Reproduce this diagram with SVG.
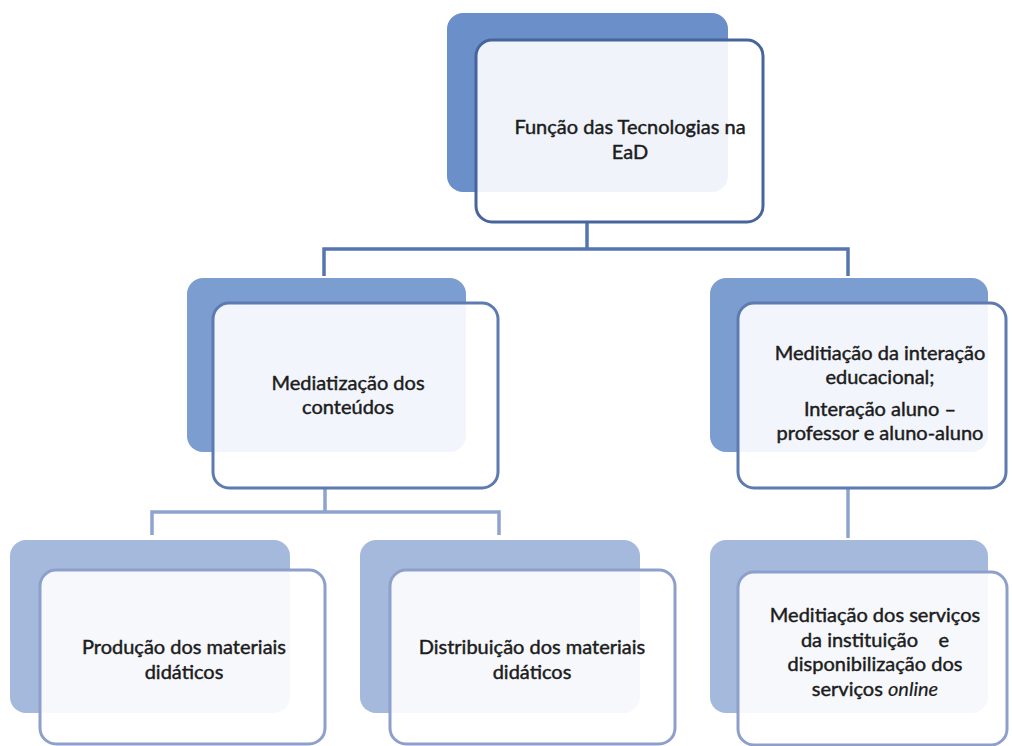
<svg xmlns="http://www.w3.org/2000/svg" width="1012" height="746" viewBox="0 0 1012 746">
<style>
.back1{fill:#6b8fc9}
.back2{fill:#7c9dd0}
.back3{fill:#a5b9dc}
.front{fill:#ffffff;fill-opacity:0.9;stroke-width:3}
.f1{stroke:#46659c}
.f2{stroke:#5d7bb0}
.f3{stroke:#8d9fcb}
.c1{fill:none;stroke:#5576ae;stroke-width:3.5}
.c2{fill:none;stroke:#8fa3cf;stroke-width:3.5}
text{font-family:Lato,"Liberation Sans",sans-serif;font-size:20px;fill:#1c1c1c;stroke:#1c1c1c;stroke-width:0.45;text-anchor:middle;white-space:pre}
</style>
<rect width="1012" height="746" fill="#ffffff"/>
<g id="connectors">
<path class="c1" d="M587 222 V249 M324 276 V249 H848 V276"/>
<path class="c2" d="M325 488 V512 M152 535 V512 H499 V535"/>
<path class="c2" d="M848 488 V538"/>
</g>
<g id="node-top">
<rect class="back1" x="447" y="13" width="281" height="179" rx="16"/>
<rect class="front f1" x="476" y="40" width="287" height="182" rx="16"/>
<text x="630" y="134">Função das Tecnologias na</text>
<text x="630" y="159">EaD</text>
</g>
<g id="node-mid-left">
<rect class="back2" x="187" y="278" width="279" height="174" rx="16"/>
<rect class="front f2" x="213" y="303" width="285" height="185" rx="16"/>
<text x="348" y="390">Mediatização dos</text>
<text x="348" y="414">conteúdos</text>
</g>
<g id="node-mid-right">
<rect class="back2" x="710" y="278" width="278" height="174" rx="16"/>
<rect class="front f2" x="738" y="303" width="268" height="185" rx="16"/>
<text x="880" y="360">Meditiação da interação</text>
<text x="880" y="384">educacional;</text>
<text x="880" y="416">Interação aluno –</text>
<text x="880" y="440">professor e aluno-aluno</text>
</g>
<g id="node-bot-left">
<rect class="back3" x="10" y="540" width="280" height="173" rx="16"/>
<rect class="front f3" x="40" y="570" width="285" height="174" rx="16"/>
<text x="184" y="654">Produção dos materiais</text>
<text x="184" y="679">didáticos</text>
</g>
<g id="node-bot-mid">
<rect class="back3" x="360" y="540" width="280" height="173" rx="16"/>
<rect class="front f3" x="390" y="570" width="285" height="174" rx="16"/>
<text x="532" y="654">Distribuição dos materiais</text>
<text x="532" y="679">didáticos</text>
</g>
<g id="node-bot-right">
<rect class="back3" x="710" y="540" width="278" height="173" rx="16"/>
<rect class="front f3" x="738" y="572" width="269" height="173" rx="16"/>
<text x="875" y="622">Meditiação dos serviços</text>
<text x="875" y="647">da instituição    e</text>
<text x="875" y="671">disponibilização dos</text>
<text x="875" y="696">serviços <tspan font-style="italic" stroke-width="0.2">online</tspan></text>
</g>
</svg>
